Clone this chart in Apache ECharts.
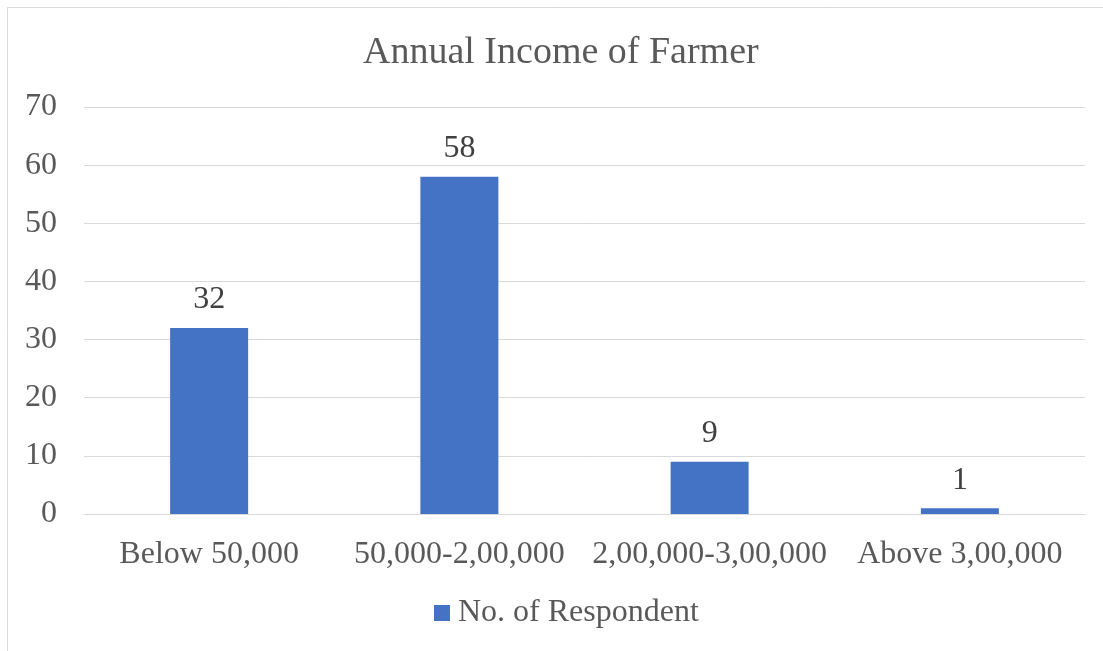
<!DOCTYPE html>
<html>
<head>
<meta charset="utf-8">
<script src="https://cdn.jsdelivr.net/npm/echarts@6/dist/echarts.min.js"></script>
<style>
  html, body { margin: 0; padding: 0; background: #fff; }
  #chart { width: 1103px; height: 651px; }
</style>
</head>
<body>
<div id="chart"></div>
<script>
// Income bands and respondent counts
const categories = ['Below 50,000', '50,000-2,00,000', '2,00,000-3,00,000', 'Above 3,00,000'];
const respondents = [32, 58, 9, 1];
const seriesName = 'No. of Respondent';
const chartTitle = 'Annual Income of Farmer';

const FONT = '"Liberation Serif", "Times New Roman", serif';
const TEXT = '#595959';
const SIZE = 32;

const chart = echarts.init(document.getElementById('chart'), null, { renderer: 'canvas' });
chart.setOption({
  backgroundColor: '#fff',
  animation: false,
  graphic: [{
    type: 'rect',
    shape: { x: 7.5, y: 7.5, width: 1110, height: 660 },
    style: { fill: 'none', stroke: '#d9d9d9', lineWidth: 1 },
    silent: true
  }],
  title: {
    text: chartTitle,
    left: 358,
    top: 29,
    textStyle: { fontFamily: FONT, fontSize: 38, fontWeight: 'normal', color: TEXT }
  },
  legend: {
    bottom: 17,
    left: 429,
    itemWidth: 16,
    itemHeight: 16,
    itemGap: 10,
    icon: 'rect',
    textStyle: { fontFamily: FONT, fontSize: SIZE, color: TEXT, padding: [0, 0, 0, 3] },
    data: [seriesName]
  },
  grid: { left: 84, right: 18, top: 107, bottom: 137, containLabel: false },
  xAxis: {
    type: 'category',
    data: categories,
    axisLine: { show: true, lineStyle: { color: '#d9d9d9', width: 1 } },
    axisTick: { show: false },
    axisLabel: { fontFamily: FONT, fontSize: SIZE, color: TEXT, margin: 25, interval: 0 }
  },
  yAxis: {
    type: 'value',
    min: 0,
    max: 70,
    interval: 10,
    axisLine: { show: false },
    axisTick: { show: false },
    splitLine: { lineStyle: { color: '#d9d9d9', width: 1 } },
    axisLabel: { fontFamily: FONT, fontSize: SIZE, color: TEXT, margin: 27 }
  },
  series: [{
    name: seriesName,
    type: 'bar',
    data: respondents,
    barWidth: 78,
    itemStyle: { color: '#4472c4' },
    label: {
      show: true,
      position: 'top',
      distance: 12,
      fontFamily: FONT,
      fontSize: SIZE,
      color: '#404040'
    }
  }]
});
</script>
</body>
</html>
